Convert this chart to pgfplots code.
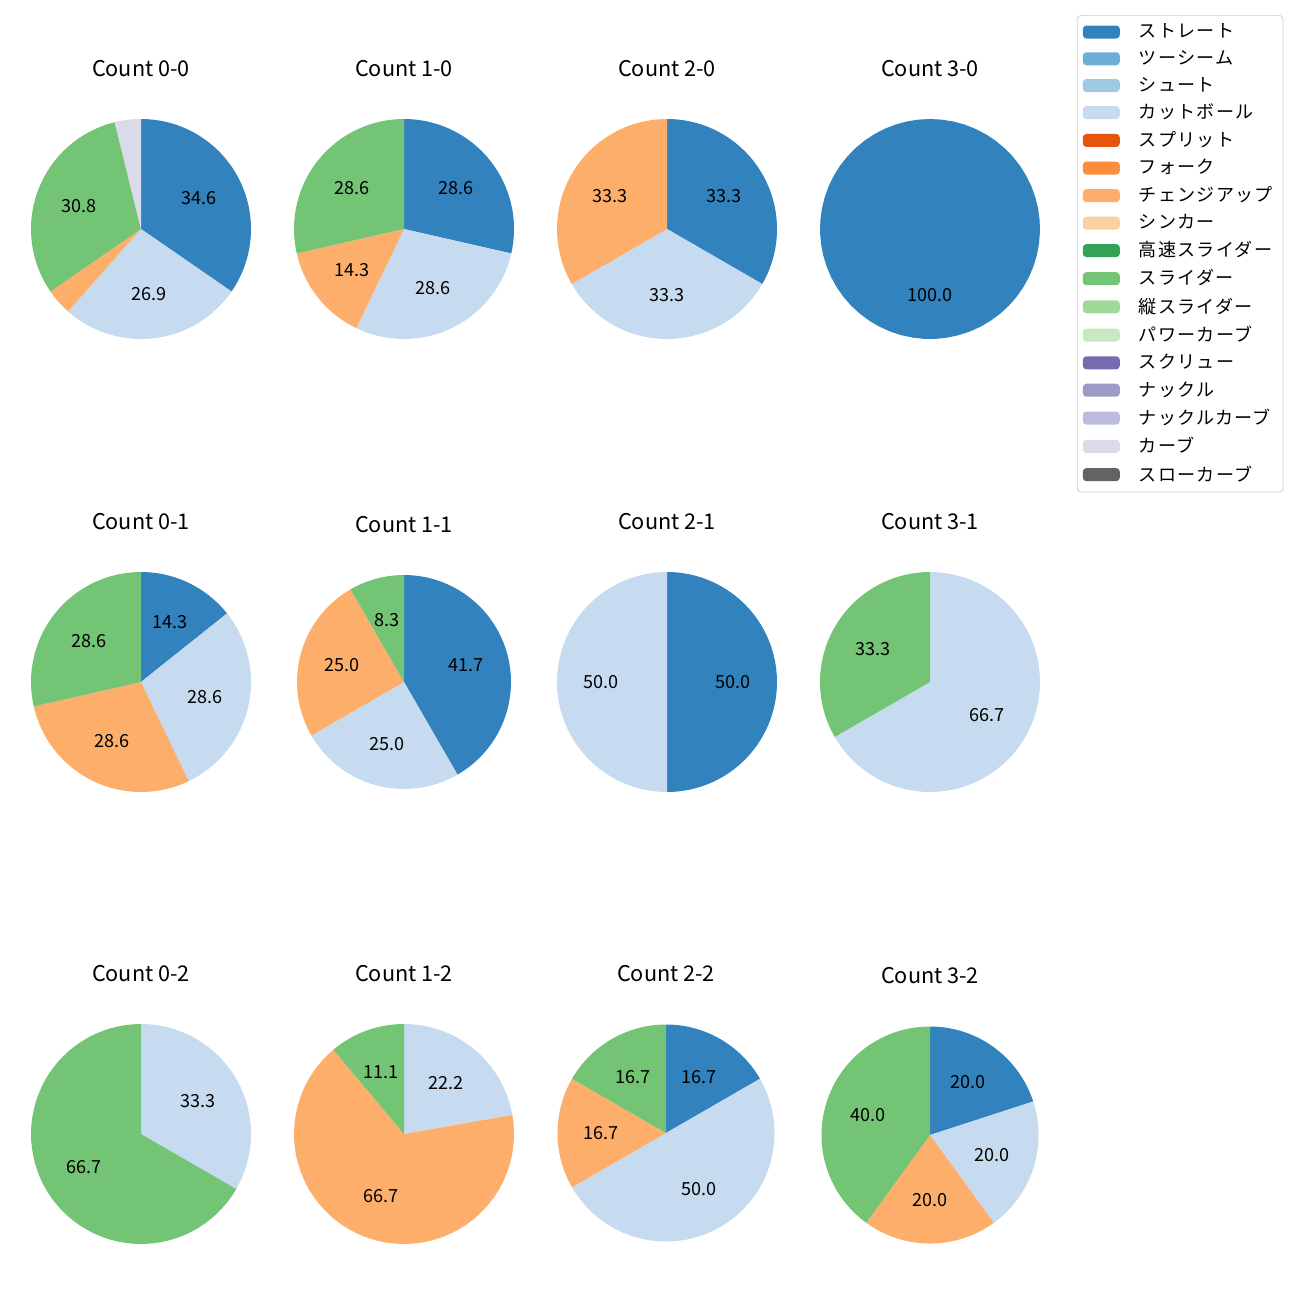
\documentclass[border=0pt]{standalone}
\usepackage{fontspec}
\setmainfont{Noto Sans CJK JP}
\newfontfamily\legfont[LetterSpace=7]{Noto Sans CJK JP}
\usepackage{pgfplots}
\pgfplotsset{compat=1.18}
\definecolor{c1}{HTML}{3182BD}
\definecolor{c2}{HTML}{6BAED6}
\definecolor{c3}{HTML}{9ECAE1}
\definecolor{c4}{HTML}{C6DBEF}
\definecolor{c5}{HTML}{E6550D}
\definecolor{c6}{HTML}{FD8D3C}
\definecolor{c7}{HTML}{FDAE6B}
\definecolor{c8}{HTML}{FDD0A2}
\definecolor{c9}{HTML}{31A354}
\definecolor{c10}{HTML}{74C476}
\definecolor{c11}{HTML}{A1D99B}
\definecolor{c12}{HTML}{C7E9C0}
\definecolor{c13}{HTML}{756BB1}
\definecolor{c14}{HTML}{9E9AC8}
\definecolor{c15}{HTML}{BCBDDC}
\definecolor{c16}{HTML}{DADAEB}
\definecolor{c17}{HTML}{636363}
\pgfplotsset{pie/.style={hide axis, scale only axis, width=121.85pt, height=121.85pt,
  xmin=-1,xmax=1,ymin=-1,ymax=1, clip=false, anchor=center}}
% slice from cumulative percent #1 to #2, clockwise from top
\newcommand{\slice}[4]{%
  \addplot[forget plot, fill=#3, draw=none, domain=#1:#2, samples=60, variable=\t]
    ({cos(90-3.6*\t)},{sin(90-3.6*\t)}) -- (axis cs:0,0) -- cycle;
  \node[font=\fontsize{10}{12}\selectfont] at (axis cs:{0.6*cos(90-1.8*(#1+#2))},{0.6*sin(90-1.8*(#1+#2))}) {#4};
}
\newcommand{\ttl}[1]{\node[font=\fontsize{12}{14}\selectfont, anchor=center] at (axis cs:0,1.4545) {#1};}
\newcommand{\px}{0.553846pt}
\begin{document}
\begin{tikzpicture}
\path[use as bounding box] (0,0) rectangle (720pt,-720pt);
% Row 1
\begin{axis}[pie, at={(141*\px,-229*\px)}]
\slice{0}{34.615}{c1}{34.6}
\slice{34.615}{61.538}{c4}{26.9}
\slice{61.538}{65.385}{c7}{}
\slice{65.385}{96.154}{c10}{30.8}
\slice{96.154}{100}{c16}{}
\ttl{Count 0-0}
\end{axis}
\begin{axis}[pie, at={(404*\px,-229*\px)}]
\slice{0}{28.571}{c1}{28.6}
\slice{28.571}{57.143}{c4}{28.6}
\slice{57.143}{71.429}{c7}{14.3}
\slice{71.429}{100}{c10}{28.6}
\ttl{Count 1-0}
\end{axis}
\begin{axis}[pie, at={(667*\px,-229*\px)}]
\slice{0}{33.333}{c1}{33.3}
\slice{33.333}{66.667}{c4}{33.3}
\slice{66.667}{100}{c7}{33.3}
\ttl{Count 2-0}
\end{axis}
\begin{axis}[pie, at={(930*\px,-229*\px)},
  legend image code/.code={\fill[#1] (0pt,-3.6pt) rectangle (20.5pt,3.6pt); \path[draw=none,fill=none] (0pt,0pt) rectangle (28.5pt,0.1pt);},
  legend style={at={(1.1682,1.4727)}, anchor=north west, draw=black!20, rounded corners=2pt,
    font=\fontsize{10}{12}\legfont, inner xsep=3pt, inner ysep=2pt, row sep=0.4pt,
    nodes={inner sep=2.6pt}, cells={anchor=west}}]
\addlegendimage{fill=c1,draw=none}
\addlegendimage{fill=c2,draw=none}
\addlegendimage{fill=c3,draw=none}
\addlegendimage{fill=c4,draw=none}
\addlegendimage{fill=c5,draw=none}
\addlegendimage{fill=c6,draw=none}
\addlegendimage{fill=c7,draw=none}
\addlegendimage{fill=c8,draw=none}
\addlegendimage{fill=c9,draw=none}
\addlegendimage{fill=c10,draw=none}
\addlegendimage{fill=c11,draw=none}
\addlegendimage{fill=c12,draw=none}
\addlegendimage{fill=c13,draw=none}
\addlegendimage{fill=c14,draw=none}
\addlegendimage{fill=c15,draw=none}
\addlegendimage{fill=c16,draw=none}
\addlegendimage{fill=c17,draw=none}
\legend{ストレート,ツーシーム,シュート,カットボール,スプリット,フォーク,チェンジアップ,シンカー,高速スライダー,スライダー,縦スライダー,パワーカーブ,スクリュー,ナックル,ナックルカーブ,カーブ,スローカーブ}
\slice{0}{100}{c1}{100.0}
\ttl{Count 3-0}
\end{axis}
% Row 2
\begin{axis}[pie, at={(141*\px,-682*\px)}]
\slice{0}{14.286}{c1}{14.3}
\slice{14.286}{42.857}{c4}{28.6}
\slice{42.857}{71.429}{c7}{28.6}
\slice{71.429}{100}{c10}{28.6}
\ttl{Count 0-1}
\end{axis}
\begin{axis}[pie, at={(404*\px,-682*\px)}, width=118.5pt, height=118.5pt]
\slice{0}{41.667}{c1}{41.7}
\slice{41.667}{66.667}{c4}{25.0}
\slice{66.667}{91.667}{c7}{25.0}
\slice{91.667}{100}{c10}{8.3}
\node[font=\fontsize{12}{14}\selectfont, anchor=center] at (axis cs:0,1.475) {Count 1-1};
\end{axis}
\begin{axis}[pie, at={(667*\px,-682*\px)}]
\slice{0}{50}{c1}{50.0}
\slice{50}{100}{c4}{50.0}
\ttl{Count 2-1}
\end{axis}
\begin{axis}[pie, at={(930*\px,-682*\px)}]
\slice{0}{66.667}{c4}{66.7}
\slice{66.667}{100}{c10}{33.3}
\ttl{Count 3-1}
\end{axis}
% Row 3
\begin{axis}[pie, at={(141*\px,-1134*\px)}]
\slice{0}{33.333}{c4}{33.3}
\slice{33.333}{100}{c10}{66.7}
\ttl{Count 0-2}
\end{axis}
\begin{axis}[pie, at={(404*\px,-1134*\px)}]
\slice{0}{22.222}{c4}{22.2}
\slice{22.222}{88.889}{c7}{66.7}
\slice{88.889}{100}{c10}{11.1}
\ttl{Count 1-2}
\end{axis}
\begin{axis}[pie, at={(666*\px,-1133*\px)}, width=120.2pt, height=120.2pt]
\slice{0}{16.667}{c1}{16.7}
\slice{16.667}{66.667}{c4}{50.0}
\slice{66.667}{83.333}{c7}{16.7}
\slice{83.333}{100}{c10}{16.7}
\node[font=\fontsize{12}{14}\selectfont, anchor=center] at (axis cs:0,1.465) {Count 2-2};
\end{axis}
\begin{axis}[pie, at={(930*\px,-1135*\px)}, width=120.2pt, height=120.2pt]
\slice{0}{20}{c1}{20.0}
\slice{20}{40}{c4}{20.0}
\slice{40}{60}{c7}{20.0}
\slice{60}{100}{c10}{40.0}
\node[font=\fontsize{12}{14}\selectfont, anchor=center] at (axis cs:0,1.47) {Count 3-2};
\end{axis}
\end{tikzpicture}
\end{document}
